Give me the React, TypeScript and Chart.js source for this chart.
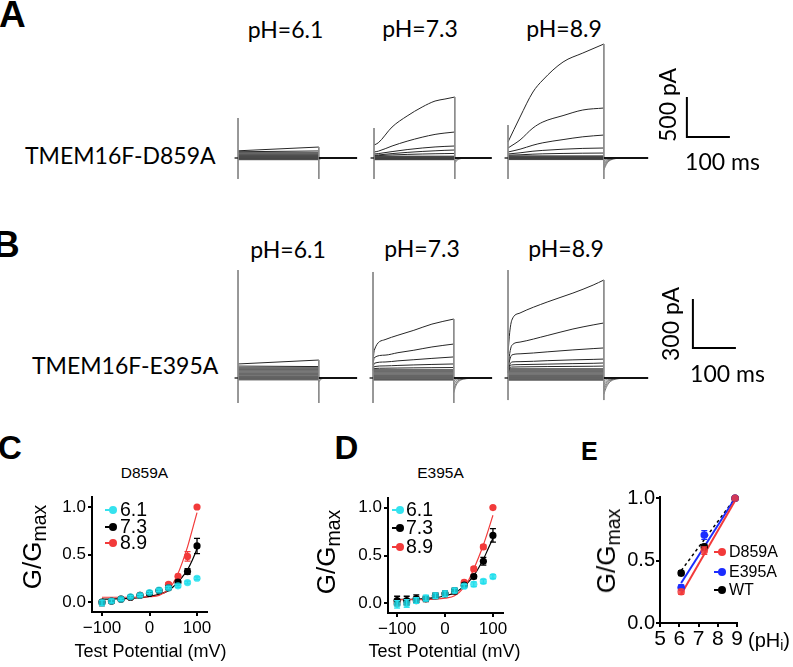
import React, { useEffect, useRef } from 'react';
import { Chart, registerables } from 'chart.js';

Chart.register(...registerables);

const LATO = 'Lato, "Open Sans", sans-serif';
const ARIAL = '"Liberation Sans", Arial, Helvetica, sans-serif';

// ---------------- Panels A / B : current traces (pA vs ms) ----------------
const TAIL_DT = [0, 3, 8, 16, 30, 50];

// A, pH 6.1
const A61_t = [0, 188];
const A61_rise = [[90, 137], [78, 88]];
const A61_band = [68, 60, 52, 45, 38, 31, 25, 19, 13, 8, 3, -2, -7, -12, -17, -22];
const A61_tail = [[-25, -12, -4, -1, 0, 0]];
const A61_spike = [500, -262];
// A, pH 7.3
const A73_t = [0, 10, 42, 77, 112, 142, 165, 188];
const A73_rise = [
  [162, 190, 387, 525, 637, 712, 737, 762],
  [75, 85, 150, 210, 260, 295, 312, 325],
  [50, 55, 80, 105, 125, 138, 145, 150],
  [35, 38, 55, 70, 82, 90, 96, 100],
  [28, 30, 38, 45, 50, 53, 55, 57],
];
const A73_band = [24, 19, 14, 10, 6, 2, -2, -6, -10, -14, -18, -22];
const A73_tail = [[-60, -40, -18, -6, -1, 0], [-40, -25, -10, -3, 0, 0]];
const A73_spike = [375, -262];
// A, pH 8.9
const A89_t = [0, 28, 58, 81, 128, 174, 223];
const A89_rise = [
  [200, 512, 825, 975, 1200, 1312, 1425],
  [125, 225, 375, 450, 530, 600, 625],
  [75, 110, 160, 190, 230, 265, 287],
  [50, 65, 85, 95, 110, 120, 125],
  [35, 40, 48, 52, 57, 60, 62],
];
const A89_band = [28, 22, 17, 12, 8, 4, 0, -4, -8, -12, -16, -20];
const A89_tail = [
  [-150, -110, -60, -25, -6, 0],
  [-120, -85, -45, -18, -4, 0],
  [-90, -60, -30, -12, -3, 0],
  [-60, -40, -20, -8, -2, 0],
  [-35, -22, -10, -4, -1, 0],
];
const A89_spike = [412, -262];
const A_BAR = { t0: 416, i0: 262, ms: 100, pA: 500 };

// B, pH 6.1
const B61_t = [0, 188];
const B61_rise = [[86, 110], [73, 70]];
const B61_band = [64, 58, 52, 47, 42, 37, 32, 27, 22, 17, 12, 8, 4, 0, -4, -8, -12];
const B61_tail = [[-25, -12, -4, -1, 0, 0]];
const B61_spike = [661, -153];
// B, pH 7.3
const B73_t = [0, 3, 28, 58, 95, 137, 188];
const B73_rise = [
  [100, 170, 235, 262, 292, 330, 361],
  [80, 125, 140, 155, 170, 190, 208],
  [60, 90, 98, 105, 112, 120, 129],
  [50, 70, 74, 77, 80, 83, 86],
  [45, 58, 60, 61, 62, 63, 64],
];
const B73_band = [52, 46, 40, 35, 30, 25, 20, 15, 10, 6, 2, -2, -6, -10, -13];
const B73_tail = [
  [-90, -60, -32, -13, -4, 0],
  [-65, -45, -22, -9, -3, 0],
  [-40, -26, -12, -5, -1, 0],
  [-20, -12, -5, -2, 0, 0],
];
const B73_spike = [649, -153];
// B, pH 8.9
const B89_t = [0, 4, 9, 28, 91, 151, 198, 223];
const B89_rise = [
  [150, 280, 355, 398, 465, 520, 569, 600],
  [60, 150, 200, 220, 260, 300, 325, 337],
  [50, 110, 141, 148, 160, 172, 180, 184],
  [40, 80, 98, 100, 106, 111, 114, 116],
  [35, 70, 80, 82, 85, 88, 90, 92],
  [30, 60, 67, 68, 70, 71, 72, 73],
];
const B89_band = [58, 52, 46, 40, 35, 30, 25, 20, 15, 10, 6, 2, -2, -6, -10, -14];
const B89_tail = [
  [-100, -75, -45, -20, -6, 0],
  [-80, -58, -33, -14, -4, 0],
  [-60, -42, -23, -10, -3, 0],
  [-40, -27, -14, -6, -2, 0],
  [-20, -13, -6, -2, 0, 0],
];
const B89_spike = [661, -135];
const B_BAR = { t0: 430, i0: 184, ms: 100, pA: 300 };

const A61 = { t: A61_t, rise: A61_rise, band: A61_band, tail: A61_tail, spike: A61_spike, stepEnd: 188, tailEnd: 277 };
const A73 = { t: A73_t, rise: A73_rise, band: A73_band, tail: A73_tail, spike: A73_spike, stepEnd: 188, tailEnd: 274 };
const A89 = { t: A89_t, rise: A89_rise, band: A89_band, tail: A89_tail, spike: A89_spike, stepEnd: 223, tailEnd: 326 };
const B61 = { t: B61_t, rise: B61_rise, band: B61_band, tail: B61_tail, spike: B61_spike, stepEnd: 188, tailEnd: 277 };
const B73 = { t: B73_t, rise: B73_rise, band: B73_band, tail: B73_tail, spike: B73_spike, stepEnd: 188, tailEnd: 277 };
const B89 = { t: B89_t, rise: B89_rise, band: B89_band, tail: B89_tail, spike: B89_spike, stepEnd: 223, tailEnd: 326 };

// ---------------- Panels C / D : G/Gmax vs test potential ----------------
const V = [-100, -80, -60, -40, -20, 0, 20, 40, 60, 80, 100];
const C_g61 = [-0.01, 0.01, 0.03, 0.055, 0.07, 0.1, 0.125, 0.15, 0.17, 0.205, 0.25];
const C_g73 = [0.0, 0.01, 0.03, 0.05, 0.07, 0.09, 0.12, 0.15, 0.21, 0.32, 0.59];
const C_g89 = [-0.01, 0.01, 0.03, 0.05, 0.07, 0.09, 0.12, 0.185, 0.27, 0.48, 1.0];
const C_e61 = [0.03, 0.02, 0.012, 0.012, 0.012, 0.012, 0.012, 0.012, 0.015, 0.015, 0.015];
const C_e73 = [0.02, 0.02, 0.015, 0.015, 0.015, 0.015, 0.015, 0.02, 0.02, 0.03, 0.08];
const C_e89 = [0.03, 0.02, 0.015, 0.015, 0.015, 0.015, 0.015, 0.02, 0.02, 0.05, 0.01];
const D_g61 = [-0.01, 0.0, 0.03, 0.055, 0.08, 0.1, 0.135, 0.18, 0.2, 0.23, 0.28];
const D_g73 = [0.03, 0.03, 0.05, 0.05, 0.08, 0.1, 0.13, 0.19, 0.28, 0.44, 0.71];
const D_g89 = [0.0, 0.01, 0.03, 0.05, 0.08, 0.1, 0.13, 0.22, 0.36, 0.59, 1.0];
const D_e61 = [0.04, 0.04, 0.03, 0.03, 0.03, 0.03, 0.025, 0.02, 0.025, 0.02, 0.02];
const D_e73 = [0.045, 0.045, 0.04, 0.03, 0.03, 0.03, 0.03, 0.02, 0.02, 0.04, 0.07];
const D_e89 = [0.02, 0.02, 0.02, 0.02, 0.02, 0.02, 0.02, 0.02, 0.02, 0.02, 0.01];
const FIT_V = [-100, -60, -20, 0, 20, 40, 50, 60, 70, 80, 90, 100];
const C_fit73 = [0.03, 0.035, 0.045, 0.06, 0.08, 0.12, 0.16, 0.21, 0.27, 0.34, 0.44, 0.56];
const C_fit89 = [0.05, 0.05, 0.052, 0.056, 0.07, 0.13, 0.2, 0.3, 0.43, 0.58, 0.76, 0.94];
const D_fit73 = [0.04, 0.045, 0.06, 0.08, 0.11, 0.18, 0.23, 0.29, 0.37, 0.46, 0.57, 0.68];
const D_fit89 = [0.04, 0.04, 0.045, 0.055, 0.08, 0.17, 0.25, 0.36, 0.48, 0.61, 0.76, 0.92];
const CD_xTicks = [-100, 0, 100];
const CD_yTicks = [0, 0.5, 1.0];
const CD_legend = ['6.1', '7.3', '8.9'];

// ---------------- Panel E : G/Gmax vs pHi ----------------
const E_pH = [6.1, 7.3, 8.9];
const E_d859 = [0.25, 0.58, 1.0];
const E_e395 = [0.285, 0.705, 1.0];
const E_wt = [0.4, 0.61, 1.0];
const E_errD = [0.02, 0.03, 0];
const E_errE = [0.02, 0.035, 0];
const E_errWT = [0.02, 0.02, 0];
const E_fitX = [6.1, 8.9];
const E_fitD = [0.23, 0.98];
const E_fitE = [0.32, 1.0];
const E_fitWT = [0.42, 1.0];
const E_xTicks = [5, 6, 7, 8, 9];
const E_yTicks = [0, 0.5, 1.0];
const E_legend = ['D859A', 'E395A', 'WT'];

const CYAN = '#35e2ee';
const CYAN_PT = 'rgba(30,222,236,0.8)';
const RED = '#f23a3a';
const BLUE = '#1b2cff';

// ---------------- layout constants ----------------
const PX_PER_MS = 0.43;
const ROW_A = { baseline: 158, paPerPx: 12.5, top: 30, bottom: 190 };
const ROW_B = { baseline: 378, paPerPx: 300 / 49, top: 262, bottom: 410 };

const Y_AXIS_W = 56;
const X_AXIS_H = 38;
const PAD_TOP = 16;
const PAD_R = 14;

function ChartCanvas({ left, top, width, height, make }: any) {
  const ref = useRef<HTMLCanvasElement | null>(null);
  useEffect(() => {
    const chart = new Chart(ref.current as HTMLCanvasElement, make());
    return () => chart.destroy();
  }, []);
  return (
    <canvas
      ref={ref}
      width={width}
      height={height}
      style={{ position: 'absolute', left, top, width, height }}
    />
  );
}

const lineDs = (pts: any[], color: string, w: number, smooth = false, dash: number[] = []) => ({
  type: 'line',
  data: pts,
  borderColor: color,
  borderWidth: w,
  pointRadius: 0,
  fill: false,
  tension: 0,
  cubicInterpolationMode: smooth ? 'monotone' : 'default',
  borderDash: dash,
  clip: false,
});

function TraceChart({ row, startPx, g, bar }: any) {
  const left = Math.round(startPx - 12 * PX_PER_MS);
  const xmin = (left - startPx) / PX_PER_MS;
  const xWanted = bar ? bar.t0 + bar.ms + 6 : g.tailEnd + 3;
  const width = Math.round((xWanted - xmin) * PX_PER_MS);
  const xmax = xmin + width / PX_PER_MS;
  const top = row.top;
  const height = row.bottom - row.top;
  const ymax = (row.baseline - row.top) * row.paPerPx;
  const ymin = (row.baseline - row.bottom) * row.paPerPx;

  const make = () => {
    const ds: any[] = [];
    const topEnd = g.rise[0][g.rise[0].length - 1];
    ds.push(lineDs([{ x: -8, y: 0 }, { x: 0, y: 0 }], '#222', 1.4));
    ds.push(lineDs([{ x: g.stepEnd, y: 0 }, { x: g.tailEnd, y: 0 }], '#111', 1.8));
    ds.push(lineDs([{ x: 0, y: g.spike[0] }, { x: 0, y: g.spike[1] }], '#8a8a8a', 1));
    ds.push(lineDs([{ x: g.stepEnd, y: topEnd }, { x: g.stepEnd, y: g.spike[1] }], '#8a8a8a', 1));
    g.band.forEach((v: number) =>
      ds.push(lineDs([{ x: 0, y: v }, { x: g.stepEnd, y: v }], '#3c3c3c', 0.75))
    );
    g.rise.forEach((r: number[]) =>
      ds.push(lineDs(r.map((v, i) => ({ x: g.t[i], y: v })), '#262626', 1, true))
    );
    g.tail.forEach((r: number[]) =>
      ds.push(lineDs(r.map((v, i) => ({ x: g.stepEnd + TAIL_DT[i], y: v })), '#444', 0.7, true))
    );
    if (bar) {
      ds.push(
        lineDs(
          [
            { x: bar.t0, y: bar.i0 + bar.pA },
            { x: bar.t0, y: bar.i0 },
            { x: bar.t0 + bar.ms, y: bar.i0 },
          ],
          '#000',
          2
        )
      );
    }
    return {
      type: 'line',
      data: { datasets: ds },
      options: {
        animation: false,
        responsive: false,
        events: [],
        layout: { padding: 0 },
        plugins: { legend: { display: false }, tooltip: { enabled: false } },
        scales: {
          x: { type: 'linear', display: false, min: xmin, max: xmax },
          y: { type: 'linear', display: false, min: ymin, max: ymax },
        },
      },
    };
  };
  return <ChartCanvas left={left} top={top} width={width} height={height} make={make} />;
}

const errorBarPlugin = {
  id: 'errorBars',
  beforeDatasetDraw(chart: any, args: any) {
    const ds = chart.data.datasets[args.index];
    if (!ds.errors) return;
    const ys = chart.scales.y;
    const ctx = chart.ctx;
    ctx.save();
    ctx.strokeStyle = ds.errColor;
    ctx.lineWidth = 1.3;
    args.meta.data.forEach((pt: any, i: number) => {
      const e = ds.errors[i];
      if (!e) return;
      const v = ds.data[i].y;
      const y1 = ys.getPixelForValue(v + e);
      const y2 = ys.getPixelForValue(v - e);
      ctx.beginPath();
      ctx.moveTo(pt.x, y1);
      ctx.lineTo(pt.x, y2);
      ctx.moveTo(pt.x - 3, y1);
      ctx.lineTo(pt.x + 3, y1);
      ctx.moveTo(pt.x - 3, y2);
      ctx.lineTo(pt.x + 3, y2);
      ctx.stroke();
    });
    ctx.restore();
  },
};

const ptsDs = (xs: number[], ys: number[], errs: number[], fill: string, errColor: string, r = 3.6) => ({
  type: 'line',
  data: xs.map((x, i) => ({ x, y: ys[i] })),
  showLine: false,
  pointRadius: r,
  pointBackgroundColor: fill,
  pointBorderWidth: 0,
  borderColor: fill,
  errors: errs,
  errColor,
  clip: false,
});

function ScatterChart({ area, spec, datasets }: any) {
  const left = area.left - Y_AXIS_W;
  const top = area.top - PAD_TOP;
  const width = area.right + PAD_R - left;
  const height = area.bottom + X_AXIS_H - top;
  const make = () => ({
    type: 'line',
    data: { datasets },
    plugins: [errorBarPlugin],
    options: {
      animation: false,
      responsive: false,
      events: [],
      layout: { padding: { left: 0, top: PAD_TOP, right: PAD_R, bottom: 0 } },
      plugins: { legend: { display: false }, tooltip: { enabled: false } },
      scales: {
        x: {
          type: 'linear',
          min: spec.xMin,
          max: spec.xMax,
          afterBuildTicks: (s: any) => {
            s.ticks = spec.xTicks.map((v: number) => ({ value: v }));
          },
          afterFit: (s: any) => {
            s.height = X_AXIS_H;
          },
          grid: { display: true, drawOnChartArea: false, drawTicks: true, tickLength: 4, color: '#000', lineWidth: 2 },
          border: { display: true, color: '#000', width: 2 },
          ticks: {
            color: '#000',
            font: { family: ARIAL, size: spec.xFont },
            padding: spec.xPad,
            maxRotation: 0,
            minRotation: 0,
            autoSkip: false,
            callback: (v: number) => (v < 0 ? '\u2212' + Math.abs(v) : String(v)),
          },
        },
        y: {
          type: 'linear',
          min: spec.yMin,
          max: spec.yMax,
          afterBuildTicks: (s: any) => {
            s.ticks = spec.yTicks.map((v: number) => ({ value: v }));
          },
          afterFit: (s: any) => {
            s.width = Y_AXIS_W;
          },
          grid: { display: true, drawOnChartArea: false, drawTicks: true, tickLength: 4, color: '#000', lineWidth: 2 },
          border: { display: true, color: '#000', width: 2 },
          ticks: {
            color: '#000',
            font: { family: ARIAL, size: spec.yFont },
            padding: spec.yPad,
            autoSkip: false,
            callback: (v: number) => Number(v).toFixed(1),
          },
        },
      },
    },
  });
  return <ChartCanvas left={left} top={top} width={width} height={height} make={make} />;
}

// ---------------- text helpers ----------------
function T({ x, y, size, font = ARIAL, weight = 400, anchor = 'start', children }: any) {
  const k = font === LATO ? 0.887 : 0.8465;
  const tx = anchor === 'middle' ? '-50%' : anchor === 'end' ? '-100%' : '0';
  return (
    <div
      style={{
        position: 'absolute',
        left: x,
        top: y - k * size,
        fontFamily: font,
        fontSize: size,
        fontWeight: weight,
        lineHeight: 1,
        whiteSpace: 'nowrap',
        transform: `translateX(${tx})`,
        color: '#000',
      }}
    >
      {children}
    </div>
  );
}

function RotT({ cx, cy, size, font = ARIAL, children }: any) {
  return (
    <div
      style={{
        position: 'absolute',
        left: cx,
        top: cy,
        fontFamily: font,
        fontSize: size,
        lineHeight: 1,
        whiteSpace: 'nowrap',
        transform: 'translate(-50%, -50%) rotate(-90deg)',
        color: '#000',
      }}
    >
      {children}
    </div>
  );
}

const Sub = ({ children, scale = 0.75, drop = 0.24 }: any) => (
  <span style={{ fontSize: `${scale}em`, position: 'relative', top: `${drop}em`, lineHeight: 0 }}>{children}</span>
);

const GLabel = () => (
  <>
    G/G<Sub>max</Sub>
  </>
);

function Legend({ x, ys, colors, labels, size, textX }: any) {
  return (
    <>
      {labels.map((lab: string, i: number) => (
        <React.Fragment key={lab}>
          <div style={{ position: 'absolute', left: x - 8, top: ys[i] - 0.75, width: 6, height: 1.5, background: colors[i] }} />
          <div
            style={{
              position: 'absolute',
              left: x - 4,
              top: ys[i] - 4,
              width: 8,
              height: 8,
              borderRadius: '50%',
              background: colors[i],
            }}
          />
          <T x={textX} y={ys[i] + 0.358 * size} size={size}>
            {lab}
          </T>
        </React.Fragment>
      ))}
    </>
  );
}

const C_AREA = { left: 92, top: 497, right: 207, bottom: 612 };
const D_AREA = { left: 388, top: 498, right: 503, bottom: 613 };
const E_AREA = { left: 660, top: 497, right: 737, bottom: 623 };

export default function App() {
  const cDatasets = [
    ptsDs(V, C_g61, C_e61, CYAN_PT, CYAN),
    ptsDs(V, C_g73, C_e73, '#000', '#000'),
    ptsDs(V, C_g89, C_e89, RED, RED),
    lineDs(FIT_V.map((x, i) => ({ x, y: C_fit89[i] })), RED, 1.2, true),
    lineDs(FIT_V.map((x, i) => ({ x, y: C_fit73[i] })), '#000', 1.2, true),
  ];
  const dDatasets = [
    ptsDs(V, D_g61, D_e61, CYAN_PT, CYAN),
    ptsDs(V, D_g73, D_e73, '#000', '#000'),
    ptsDs(V, D_g89, D_e89, RED, RED),
    lineDs(FIT_V.map((x, i) => ({ x, y: D_fit89[i] })), RED, 1.2, true),
    lineDs(FIT_V.map((x, i) => ({ x, y: D_fit73[i] })), '#000', 1.2, true),
  ];
  const eDatasets = [
    ptsDs(E_pH, E_d859, E_errD, 'rgba(242,58,58,0.85)', RED, 3.8),
    ptsDs(E_pH, E_e395, E_errE, BLUE, BLUE, 3.8),
    ptsDs(E_pH, E_wt, E_errWT, '#000', '#000', 3.8),
    lineDs(E_fitX.map((x, i) => ({ x, y: E_fitD[i] })), RED, 2),
    lineDs(E_fitX.map((x, i) => ({ x, y: E_fitE[i] })), BLUE, 2),
    lineDs(E_fitX.map((x, i) => ({ x, y: E_fitWT[i] })), '#000', 1.5, false, [3, 3]),
  ];
  const cdSpec = (xMin: number, xMax: number, yMin: number, yMax: number) => ({
    xMin, xMax, yMin, yMax, xTicks: CD_xTicks, yTicks: CD_yTicks, xFont: 17, yFont: 17, xPad: 2, yPad: 2,
  });
  const eSpec = { xMin: 5, xMax: 9, yMin: 0, yMax: 1.01, xTicks: E_xTicks, yTicks: E_yTicks, xFont: 21, yFont: 20, xPad: 0, yPad: 1 };

  return (
    <div style={{ position: 'absolute', left: 0, top: 0, width: 793, height: 667, overflow: 'hidden', background: '#fff' }}>
      {/* Panel A */}
      <T x={-1} y={27} size={37} weight={700}>A</T>
      <T x={285.5} y={38} size={23} font={LATO} anchor="middle">pH=6.1</T>
      <T x={420} y={37} size={23} font={LATO} anchor="middle">pH=7.3</T>
      <T x={564} y={37} size={23} font={LATO} anchor="middle">pH=8.9</T>
      <T x={25} y={164} size={23} font={LATO}>TMEM16F-D859A</T>
      <TraceChart row={ROW_A} startPx={238} g={A61} />
      <TraceChart row={ROW_A} startPx={374} g={A73} />
      <TraceChart row={ROW_A} startPx={508} g={A89} bar={A_BAR} />
      <RotT cx={666.5} cy={105} size={23} font={LATO}>500 pA</RotT>
      <T x={722.5} y={170} size={23} font={LATO} anchor="middle">100 ms</T>

      {/* Panel B */}
      <T x={-7} y={257} size={37} weight={700}>B</T>
      <T x={288} y={258} size={23} font={LATO} anchor="middle">pH=6.1</T>
      <T x={422} y={257} size={23} font={LATO} anchor="middle">pH=7.3</T>
      <T x={566} y={257} size={23} font={LATO} anchor="middle">pH=8.9</T>
      <T x={32} y={374} size={23} font={LATO}>TMEM16F-E395A</T>
      <TraceChart row={ROW_B} startPx={238} g={B61} />
      <TraceChart row={ROW_B} startPx={373} g={B73} />
      <TraceChart row={ROW_B} startPx={508} g={B89} bar={B_BAR} />
      <RotT cx={669.5} cy={324} size={23} font={LATO}>300 pA</RotT>
      <T x={727.5} y={382} size={23} font={LATO} anchor="middle">100 ms</T>

      {/* Panel C */}
      <T x={-2} y={459} size={33} weight={700}>C</T>
      <T x={144.5} y={478} size={15.5} anchor="middle">D859A</T>
      <ScatterChart area={C_AREA} spec={cdSpec(-121, 121, -0.105, 1.105)} datasets={cDatasets} />
      <Legend x={113} ys={[510, 527, 543]} colors={[CYAN, '#000', RED]} labels={CD_legend} size={19.5} textX={120} />
      <RotT cx={32} cy={547} size={26}><GLabel /></RotT>
      <T x={150.5} y={657} size={18} anchor="middle">Test Potential (mV)</T>

      {/* Panel D */}
      <T x={334.5} y={459} size={33} weight={700}>D</T>
      <T x={440.5} y={478} size={15.5} anchor="middle">E395A</T>
      <ScatterChart area={D_AREA} spec={cdSpec(-119, 121, -0.1, 1.1)} datasets={dDatasets} />
      <Legend x={400} ys={[510, 528, 547]} colors={[CYAN, '#000', RED]} labels={CD_legend} size={19.5} textX={406} />
      <RotT cx={326} cy={552} size={26}><GLabel /></RotT>
      <T x={444.5} y={657} size={18} anchor="middle">Test Potential (mV)</T>

      {/* Panel E */}
      <T x={581} y={460} size={25} weight={700}>E</T>
      <ScatterChart area={E_AREA} spec={eSpec} datasets={eDatasets} />
      <Legend x={722} ys={[552, 572, 590]} colors={[RED, BLUE, '#000']} labels={E_legend} size={16} textX={729} />
      <RotT cx={606} cy={551} size={26}><GLabel /></RotT>
      <T x={748} y={646.5} size={20}>(pH<Sub scale={0.7} drop={0.25}>i</Sub>)</T>
    </div>
  );
}
